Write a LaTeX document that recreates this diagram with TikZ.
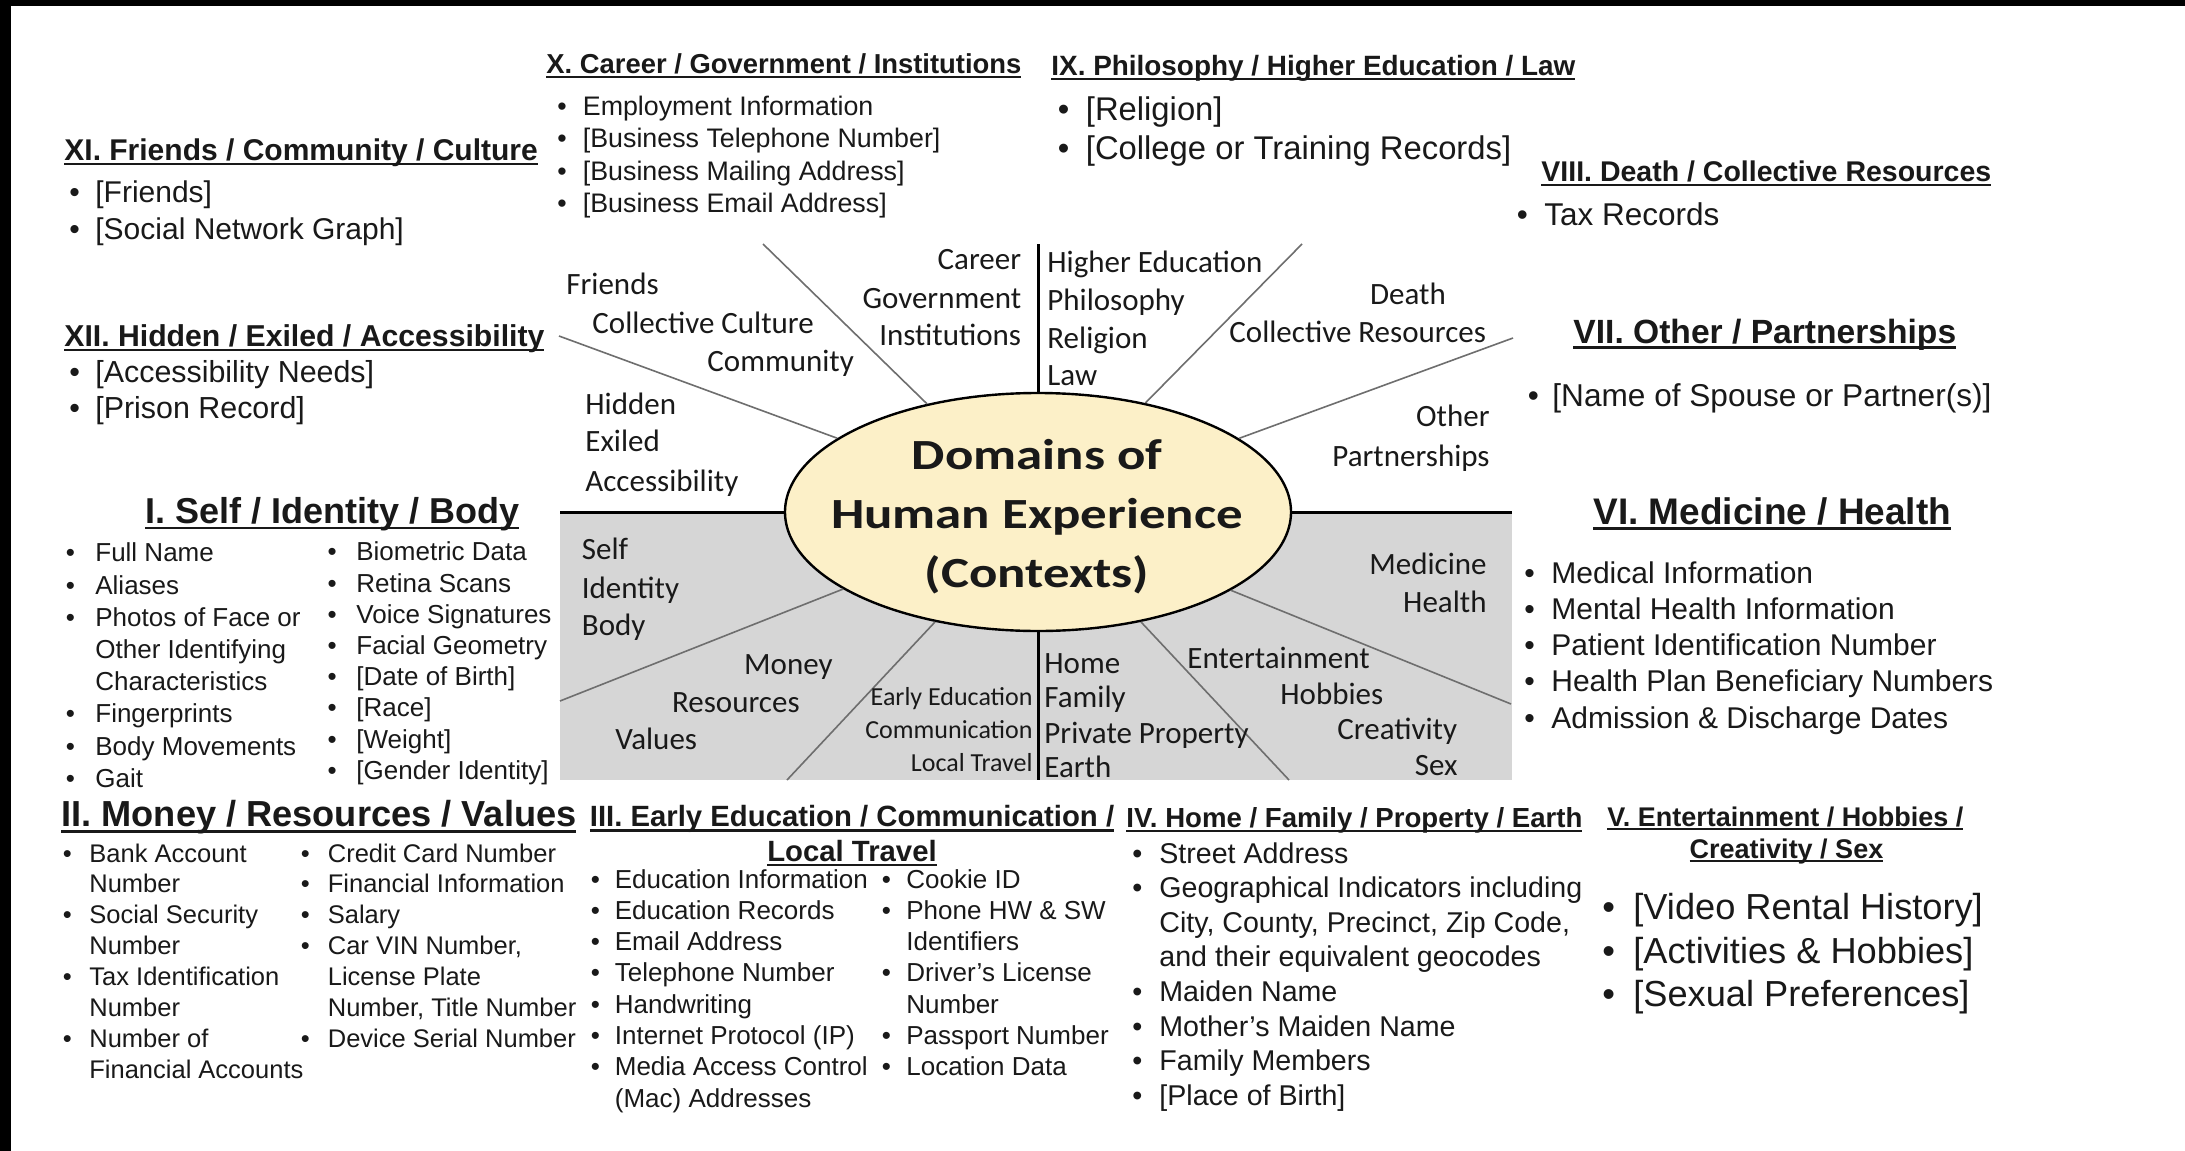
\documentclass[tikz,border=0pt]{standalone}
\usepackage{fontspec}
\setmainfont{Liberation Sans}
\newfontfamily\gill{Carlito}
\newfontfamily\gillx{Carlito}[FakeStretch=1.23]
\usetikzlibrary{shapes.geometric}
\definecolor{cream}{RGB}{252,240,200}
\definecolor{panel}{RGB}{214,214,214}
\definecolor{spoke}{RGB}{110,110,110}
\definecolor{ink}{RGB}{25,25,25}
\newlength\bgap
\newcommand\bi{\makebox[\bgap][l]{\textbullet}}
\newcommand\ci{\hspace*{\bgap}}
\newcommand\blist[2]{\setlength\bgap{#1}\begin{tabular}[t]{@{}l@{}}#2\end{tabular}}
\newcommand\ulh[1]{\setbox0=\hbox{#1}\rlap{\rule[-0.16em]{\wd0}{0.075em}}\box0}
\begin{document}
\begin{tikzpicture}[x=0.5pt,y=-0.5pt,
  txt/.style={inner sep=0pt, text=ink},
  lbl/.style={txt, font=\gill\fontsize{15.5}{18}\selectfont},
  lbls/.style={txt, font=\gill\fontsize{13}{15}\selectfont},
  hd/.style={txt, anchor=base west},
  lst/.style={txt, anchor=base west},
  spk/.style={draw=spoke, line width=0.8pt},
  blk/.style={draw=black, line width=1.5pt}]
\useasboundingbox (0,0) rectangle (2185,1151);
\fill[white] (0,0) rectangle (2185,1151);
\fill[black] (0,0) rectangle (2185,6);
\fill[black] (0,0) rectangle (11,1151);
% panel
\fill[panel] (560,512) rectangle (1512,780);
% coordinates
\coordinate (hl) at (560,512); \coordinate (hr) at (1512,512);
\coordinate (vt) at (1038,244); \coordinate (vb) at (1038,780);
\coordinate (sa) at (763,244); \coordinate (sb) at (559,336);
\coordinate (sc) at (1302,244); \coordinate (sd) at (1513,338);
\coordinate (se) at (560,701); \coordinate (sf) at (787,780);
\coordinate (sg) at (1289,780); \coordinate (sh) at (1511,704);
% ellipse
\node[ellipse, draw=black, line width=1.2pt, fill=cream, minimum width=253pt, minimum height=119pt, inner sep=0pt] (ell) at (1038,512) {};
\foreach \s in {sa,sb,sc,sd,se,sf,sg,sh} \draw[spk] (\s) -- (ell);
\draw[blk] (hl) -- (ell.west);
\draw[blk] (ell.east) -- (hr);
\draw[blk] (vt) -- (ell.north);
\draw[blk] (ell.south) -- (vb);
\node[txt, anchor=base, font=\gillx\bfseries\fontsize{21.5}{29.5}\selectfont] (ctitle) at (1037,469) {\begin{tabular}[t]{@{}c@{}}Domains of\\Human Experience\\(Contexts)\end{tabular}};
% inner labels
\node[lbl, anchor=base west] (fr) at (566,294.6) {Friends};
\node[lbl, anchor=base west] (cc) at (592,333) {Collective Culture};
\node[lbl, anchor=base west] (cm) at (707,371) {Community};
\node[lbl, anchor=base east] (ca) at (1021.5,269.6) {Career};
\node[lbl, anchor=base east] (go) at (1021.5,308) {Government};
\node[lbl, anchor=base east] (in) at (1021.5,345.7) {Institutions};
\node[lbl, anchor=base west] (he) at (1047,272) {Higher Education};
\node[lbl, anchor=base west] (ph) at (1047,310.7) {Philosophy};
\node[lbl, anchor=base west] (re) at (1047,348) {Religion};
\node[lbl, anchor=base west] (la) at (1047,385.7) {Law};
\node[lbl, anchor=base] (de) at (1408,304) {Death};
\node[lbl, anchor=base west] (cr) at (1229,342) {Collective Resources};
\node[lbl, anchor=base east] (ot) at (1490,426.8) {Other};
\node[lbl, anchor=base east] (pa) at (1490,466) {Partnerships};
\node[lbl, anchor=base west] (hi) at (585,414) {Hidden};
\node[lbl, anchor=base west] (ex) at (585,451.8) {Exiled};
\node[lbl, anchor=base west] (ac) at (585,491) {Accessibility};
\node[lbl, anchor=base west] (sf1) at (581.5,559) {Self};
\node[lbl, anchor=base west] (id) at (581.5,598) {Identity};
\node[lbl, anchor=base west] (bo) at (581.5,635.7) {Body};
\node[lbl, anchor=base east] (mo) at (833,674) {Money};
\node[lbl, anchor=base east] (rs) at (800,712) {Resources};
\node[lbl, anchor=base west] (va) at (615,749) {Values};
\node[lbls, anchor=base east] (ee) at (1033,705.5) {Early Education};
\node[lbls, anchor=base east] (co) at (1033,738.5) {Communication};
\node[lbls, anchor=base east] (lt) at (1033,771.5) {Local Travel};
\node[lbl, anchor=base west] (ho) at (1044,673) {Home};
\node[lbl, anchor=base west] (fa) at (1044,707) {Family};
\node[lbl, anchor=base west] (pp) at (1044,743) {Private Property};
\node[lbl, anchor=base west] (ea) at (1044,777) {Earth};
\node[lbl, anchor=base west] (en) at (1187,668) {Entertainment};
\node[lbl, anchor=base west] (hb) at (1280,704) {Hobbies};
\node[lbl, anchor=base west] (cv) at (1337,739) {Creativity};
\node[lbl, anchor=base east] (sx) at (1458,775) {Sex};
\node[lbl, anchor=base east] (me) at (1487,574) {Medicine};
\node[lbl, anchor=base east] (hl2) at (1487,612.5) {Health};
% XI
\node[hd, font=\bfseries\fontsize{15}{18}\selectfont] (h11) at (64,160.5) {\ulh{XI. Friends / Community / Culture}};
\node[lst, font=\fontsize{15}{18.25}\selectfont] (l11) at (69,202.5) {\blist{13pt}{\bi [Friends]\\ \bi [Social Network Graph]}};
% XII
\node[hd, font=\bfseries\fontsize{15.1}{18}\selectfont] (h12) at (64,346.5) {\ulh{XII. Hidden / Exiled / Accessibility}};
\node[lst, font=\fontsize{15.2}{18}\selectfont] (l12) at (69,382.5) {\blist{13pt}{\bi [Accessibility Needs]\\ \bi [Prison Record]}};
% X
\node[hd, font=\bfseries\fontsize{13.7}{16}\selectfont] (h10) at (546,73.6) {\ulh{X. Career / Government / Institutions}};
\node[lst, font=\fontsize{13.4}{16.25}\selectfont] (l10) at (557,115.4) {\blist{12.75pt}{\bi Employment Information\\ \bi [Business Telephone Number]\\ \bi [Business Mailing Address]\\ \bi [Business Email Address]}};
% IX
\node[hd, font=\bfseries\fontsize{13.95}{16}\selectfont] (h9) at (1051,75.3) {\ulh{IX. Philosophy / Higher Education / Law}};
\node[lst, font=\fontsize{16.4}{19.5}\selectfont] (l9) at (1057.5,120.2) {\blist{14pt}{\bi [Religion]\\ \bi [College or Training Records]}};
% VIII
\node[hd, font=\bfseries\fontsize{14.25}{17}\selectfont] (h8) at (1541,181.4) {\ulh{VIII. Death / Collective Resources}};
\node[lst, font=\fontsize{15.75}{19}\selectfont] (l8) at (1516.5,225.6) {\blist{13.75pt}{\bi Tax Records}};
% VII
\node[hd, font=\bfseries\fontsize{16.8}{20}\selectfont] (h7) at (1573,343.4) {\ulh{VII. Other / Partnerships}};
\node[lst, font=\fontsize{15.8}{19}\selectfont] (l7) at (1527.5,406.8) {\blist{12.25pt}{\bi [Name of Spouse or Partner(s)]}};
% VI
\node[hd, font=\bfseries\fontsize{18.5}{22}\selectfont] (h6) at (1593,524) {\ulh{VI. Medicine / Health}};
\node[lst, font=\fontsize{15}{18.1}\selectfont] (l6) at (1524,583.2) {\blist{13.5pt}{\bi Medical Information\\ \bi Mental Health Information\\ \bi Patient Identification Number\\ \bi Health Plan Beneficiary Numbers\\ \bi Admission \& Discharge Dates}};
% I
\node[hd, font=\bfseries\fontsize{18}{22}\selectfont] (h1) at (145,523.6) {\ulh{I. Self / Identity / Body}};
\node[lst, font=\fontsize{13}{16.1}\selectfont] (l1a) at (65.5,561.8) {\blist{14.75pt}{\bi Full Name\\ \bi Aliases\\ \bi Photos of Face or\\ \ci Other Identifying\\ \ci Characteristics\\ \bi Fingerprints\\ \bi Body Movements\\ \bi Gait}};
\node[lst, font=\fontsize{13}{15.6}\selectfont] (l1b) at (327.2,560.8) {\blist{14.4pt}{\bi Biometric Data\\ \bi Retina Scans\\ \bi Voice Signatures\\ \bi Facial Geometry\\ \bi [Date of Birth]\\ \bi [Race]\\ \bi [Weight]\\ \bi [Gender Identity]}};
% II
\node[hd, font=\bfseries\fontsize{18.1}{22}\selectfont] (h2) at (61,826.7) {\ulh{II. Money / Resources / Values}};
\node[lst, font=\fontsize{12.75}{15.45}\selectfont] (l2a) at (62.5,862) {\blist{13.25pt}{\bi Bank Account\\ \ci Number\\ \bi Social Security\\ \ci Number\\ \bi Tax Identification\\ \ci Number\\ \bi Number of\\ \ci Financial Accounts}};
\node[lst, font=\fontsize{12.75}{15.45}\selectfont] (l2b) at (300.5,862) {\blist{13.5pt}{\bi Credit Card Number\\ \bi Financial Information\\ \bi Salary\\ \bi Car VIN Number,\\ \ci License Plate\\ \ci Number, Title Number\\ \bi Device Serial Number}};
% III
\node[hd, font=\bfseries\fontsize{14.65}{17}\selectfont] (h3) at (589.5,826.9) {\ulh{III. Early Education / Communication /}};
\node[txt, anchor=base, font=\bfseries\fontsize{14.65}{17}\selectfont] (h3b) at (852,861.6) {\ulh{Local Travel}};
\node[lst, font=\fontsize{13}{15.65}\selectfont] (l3a) at (590.5,888) {\blist{12pt}{\bi Education Information\\ \bi Education Records\\ \bi Email Address\\ \bi Telephone Number\\ \bi Handwriting\\ \bi Internet Protocol (IP)\\ \bi Media Access Control\\ \ci (Mac) Addresses}};
\node[lst, font=\fontsize{13}{15.65}\selectfont] (l3b) at (881.5,888) {\blist{12.25pt}{\bi Cookie ID\\ \bi Phone HW \& SW\\ \ci Identifiers\\ \bi Driver’s License\\ \ci Number\\ \bi Passport Number\\ \bi Location Data}};
% IV
\node[hd, font=\bfseries\fontsize{13.8}{16}\selectfont] (h4) at (1126,827.7) {\ulh{IV. Home / Family / Property / Earth}};
\node[lst, font=\fontsize{14.3}{17.3}\selectfont] (l4) at (1132,863) {\blist{13.5pt}{\bi Street Address\\ \bi Geographical Indicators including\\ \ci City, County, Precinct, Zip Code,\\ \ci and their equivalent geocodes\\ \bi Maiden Name\\ \bi Mother’s Maiden Name\\ \bi Family Members\\ \bi [Place of Birth]}};
% V
\node[hd, font=\bfseries\fontsize{13.5}{16}\selectfont] (h5) at (1607,826) {\ulh{V. Entertainment / Hobbies /}};
\node[txt, anchor=base, font=\bfseries\fontsize{13.5}{16}\selectfont] (h5b) at (1786.5,858) {\ulh{Creativity / Sex}};
\node[lst, font=\fontsize{18.1}{21.65}\selectfont] (l5) at (1602,919.7) {\blist{15.5pt}{\bi [Video Rental History]\\ \bi [Activities \& Hobbies]\\ \bi [Sexual Preferences]}};
\end{tikzpicture}
\end{document}
